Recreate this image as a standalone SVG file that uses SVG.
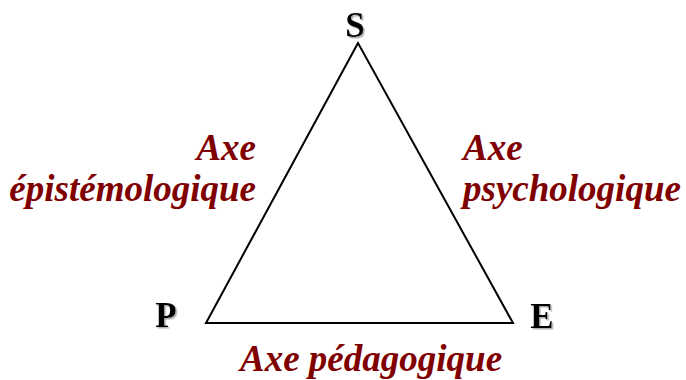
<svg xmlns="http://www.w3.org/2000/svg" width="686" height="380" viewBox="0 0 686 380">
<defs>
<filter id="sh" x="-20%" y="-20%" width="150%" height="150%">
<feDropShadow dx="1.5" dy="1.5" stdDeviation="0.6" flood-color="#999" flood-opacity="0.8"/>
</filter>
</defs>
<style>
.v{font-family:"Liberation Serif","Tinos","Times New Roman","DejaVu Serif",serif;font-weight:bold;font-size:35px;fill:#000;filter:url(#sh)}
.ax{font-family:"Liberation Serif","Tinos","Times New Roman","DejaVu Serif",serif;font-weight:bold;font-style:italic;font-size:37px;fill:#800000}
</style>
<rect width="686" height="380" fill="#fff"/>
<g id="connectors">
<polygon points="358,43 206,323 513,323" fill="none" stroke="#000" stroke-width="2"/>
</g>
<g id="S">
<text class="v" x="355" y="37" text-anchor="middle">S</text>
</g>
<g id="P">
<text class="v" x="166" y="327" text-anchor="middle">P</text>
</g>
<g id="E">
<text class="v" x="542" y="328" text-anchor="middle">E</text>
</g>
<g id="axe-epistemologique">
<text class="ax" x="256" y="160" text-anchor="end">Axe</text>
<text class="ax" x="256" y="201" text-anchor="end">épistémologique</text>
</g>
<g id="axe-psychologique">
<text class="ax" x="463" y="160">Axe</text>
<text class="ax" x="463" y="201">psychologique</text>
</g>
<g id="axe-pedagogique">
<text class="ax" x="240" y="371">Axe pédagogique</text>
</g>
</svg>
